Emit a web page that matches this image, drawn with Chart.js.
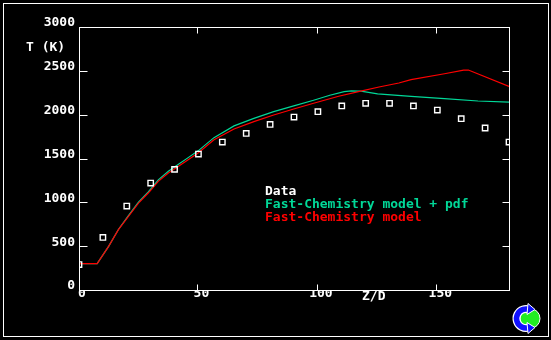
<!DOCTYPE html>
<html><head><meta charset="utf-8">
<script src="https://cdn.jsdelivr.net/npm/chart.js@4"></script>
<style>html,body{margin:0;padding:0;background:#000;}canvas{display:block}</style>
</head><body>
<canvas id="c" width="551" height="340"></canvas>
<script>
// ---- data ----
const xTicks = [0, 50, 100, 150];
const yTicks = [0, 500, 1000, 1500, 2000, 2500, 3000];
const xTitle = 'Z/D';
const yTitle = 'T (K)';
const seriesNames = ['Data', 'Fast-Chemistry model + pdf', 'Fast-Chemistry model'];

const dataZ = [0, 10, 20, 30, 40, 50, 60, 70, 80, 90, 100, 110, 120, 130, 140, 150, 160, 170, 180];
const dataT = [290, 600, 958, 1220, 1376, 1551, 1688, 1786, 1889, 1973, 2034, 2099, 2129, 2129, 2099, 2053, 1954, 1848, 1688];

const pdfZ = [0, 7.6, 12.4, 16.5, 20.7, 24.9, 29, 33.2, 37.4, 41.5, 45.7, 50, 56.5, 64.9, 73.2, 81.5, 89.9, 98.2, 105, 111, 114, 118, 125, 139, 153, 167, 180];
const pdfT = [300, 300, 498, 690, 848, 1003, 1120, 1256, 1354, 1432, 1510, 1590, 1738, 1872, 1958, 2034, 2100, 2165, 2222, 2262, 2272, 2268, 2238, 2208, 2182, 2156, 2142];

const fastZ = [0, 7.6, 12.4, 16.5, 20.7, 24.9, 29, 33.2, 37.4, 41.5, 45.7, 50, 56.5, 64.9, 73.2, 81.5, 89.9, 98.2, 108.7, 117, 125.6, 133.9, 139, 153, 161, 163, 180];
const fastT = [300, 300, 498, 688, 840, 992, 1106, 1239, 1334, 1410, 1486, 1565, 1714, 1837, 1920, 1996, 2065, 2130, 2210, 2262, 2316, 2361, 2399, 2467, 2509, 2509, 2322];

const WHITE = '#ffffff';
const GREEN = '#00d898';
const RED = '#ff0000';
const FONT = {family: '"DejaVu Sans Mono", "Liberation Mono", monospace', size: 13, weight: 'bold'};
const FONT_CSS = 'bold 13px "DejaVu Sans Mono", "Liberation Mono", monospace';

const pts = (xs, ys) => xs.map((x, i) => ({x: x, y: ys[i]}));

const decor = {
  id: 'decor',
  beforeDraw(chart) {
    const ctx = chart.ctx;
    ctx.save();
    ctx.fillStyle = '#000';
    ctx.fillRect(0, 0, chart.width, chart.height);
    ctx.strokeStyle = WHITE;
    ctx.lineWidth = 1;
    ctx.strokeRect(3.5, 3.5, 545, 333);
    ctx.restore();
  },
  afterDraw(chart) {
    const ctx = chart.ctx;
    const a = chart.chartArea;
    const xs = chart.scales.x, ys = chart.scales.y;
    ctx.save();
    ctx.strokeStyle = WHITE;
    ctx.lineWidth = 1;
    const L = Math.round(a.left) + 0.5, R = Math.round(a.right) + 0.5;
    const T = Math.round(a.top) + 0.5, B = Math.round(a.bottom) + 0.5;
    ctx.strokeRect(L, T, R - L, B - T);
    ctx.beginPath();
    xs.ticks.forEach(t => {
      if (t.value <= xs.min || t.value >= xs.max) return;
      const px = Math.round(xs.getPixelForValue(t.value)) - 0.5;
      ctx.moveTo(px, B); ctx.lineTo(px, B - 6);
      ctx.moveTo(px, T); ctx.lineTo(px, T + 6);
    });
    ys.ticks.forEach(t => {
      if (t.value <= ys.min || t.value >= ys.max) return;
      const py = Math.round(ys.getPixelForValue(t.value)) + 0.5;
      ctx.moveTo(L, py); ctx.lineTo(L + 8, py);
      ctx.moveTo(R, py); ctx.lineTo(R - 7, py);
    });
    ctx.stroke();

    // axis titles
    ctx.font = FONT_CSS;
    ctx.textBaseline = 'alphabetic';
    ctx.textAlign = 'left';
    ctx.fillStyle = WHITE;
    ctx.fillText(yTitle, 26, 51);
    ctx.fillText(xTitle, 362, 300);

    // legend (text only, coloured like the series)
    const legendColors = [WHITE, GREEN, RED];
    seriesNames.forEach((name, i) => {
      ctx.fillStyle = legendColors[i];
      ctx.fillText(name, 265, 195 + 13 * i);
    });

    // logo
    const cx = 526, cy = 318.5;
    ctx.beginPath();
    ctx.arc(cx + 4, cy, 10, 0, Math.PI * 2);
    ctx.fillStyle = '#22ee22';
    ctx.fill();
    ctx.strokeStyle = WHITE;
    ctx.lineWidth = 1;
    ctx.stroke();
    ctx.beginPath();
    ctx.arc(cx, cy, 9.5, -Math.PI * 0.35, Math.PI * 0.38, true);
    ctx.strokeStyle = WHITE;
    ctx.lineWidth = 8;
    ctx.stroke();
    ctx.strokeStyle = '#1010ff';
    ctx.lineWidth = 5.5;
    ctx.stroke();
    ctx.fillStyle = '#1010ff';
    ctx.strokeStyle = WHITE;
    ctx.lineWidth = 1;
    ctx.beginPath();
    ctx.moveTo(cx + 2, cy - 15); ctx.lineTo(cx + 9, cy - 9); ctx.lineTo(cx + 1, cy - 4); ctx.closePath();
    ctx.fill(); ctx.stroke();
    ctx.beginPath();
    ctx.moveTo(cx + 2, cy + 15); ctx.lineTo(cx + 9, cy + 9); ctx.lineTo(cx + 1, cy + 4); ctx.closePath();
    ctx.fill(); ctx.stroke();
    ctx.restore();
  }
};

new Chart(document.getElementById('c'), {
  type: 'line',
  data: {
    datasets: [
      {label: seriesNames[0], data: pts(dataZ, dataT), showLine: false, pointStyle: 'rect',
       pointRadius: 3.8, pointBorderWidth: 1.4, pointBorderColor: WHITE, pointBackgroundColor: 'rgba(0,0,0,0)', clip: 0},
      {label: seriesNames[2], data: pts(fastZ, fastT), borderColor: RED, borderWidth: 1.2, pointRadius: 0, tension: 0, clip: 0},
      {label: seriesNames[1], data: pts(pdfZ, pdfT), borderColor: GREEN, borderWidth: 1.2, pointRadius: 0, tension: 0, clip: 0}
    ]
  },
  options: {
    responsive: false,
    animation: false,
    devicePixelRatio: 1,
    layout: {padding: {left: 0, right: 42, top: 27, bottom: 0}},
    plugins: {legend: {display: false}, tooltip: {enabled: false}, title: {display: false}},
    scales: {
      x: {
        type: 'linear', position: 'bottom', min: 0, max: 180,
        afterBuildTicks: s => { s.ticks = xTicks.map(v => ({value: v})); },
        afterFit: s => { s.height = 50; },
        grid: {display: false, drawTicks: false},
        border: {display: false},
        ticks: {color: WHITE, font: FONT, padding: -4, labelOffset: 3, maxRotation: 0, autoSkip: false,
                callback: v => String(v)}
      },
      y: {
        type: 'linear', position: 'left', min: 0, max: 3000,
        afterBuildTicks: s => { s.ticks = yTicks.map(v => ({value: v})); },
        afterFit: s => { s.width = 79; },
        grid: {display: false, drawTicks: false},
        border: {display: false},
        ticks: {color: WHITE, font: FONT, padding: 4, labelOffset: -4, autoSkip: false,
                callback: v => String(v)}
      }
    }
  },
  plugins: [decor]
});
</script>
</body></html>
